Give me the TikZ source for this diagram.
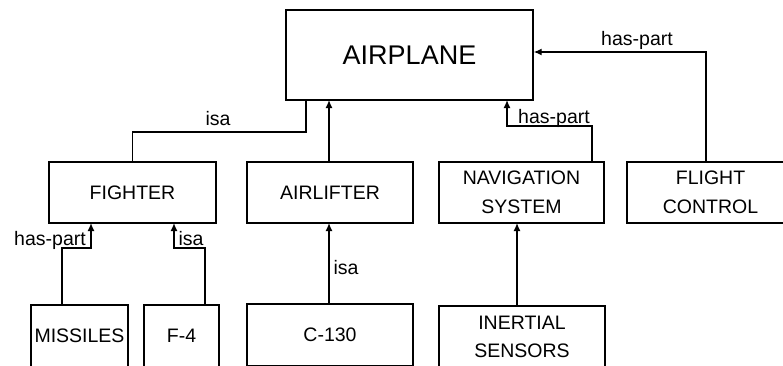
\documentclass[tikz,border=0pt]{standalone}
\usepackage{fontspec}
\setmainfont{Liberation Sans}
\usetikzlibrary{arrows.meta}
\begin{document}
\begin{tikzpicture}[x=1pt,y=-1pt,
  box/.style={draw,line width=1.4pt,rectangle,inner sep=0pt,align=center,
    font=\fontsize{19.5}{28.5}\selectfont},
  lbl/.style={inner sep=0pt,anchor=base,font=\fontsize{19.5}{22}\selectfont},
  con/.style={line width=1.4pt},
  arr/.style={con,-{Latex[length=8pt,width=7pt]}}]
\useasboundingbox (0,0) rectangle (783,365);
\clip (0,0) rectangle (783,365);
\node[box,minimum width=247pt,minimum height=90pt,font=\fontsize{27}{30}\selectfont] (airplane) at (409.5,55) {AIRPLANE};
\node[box,minimum width=167pt,minimum height=61pt] (fighter) at (132.5,192.5) {FIGHTER};
\node[box,minimum width=166pt,minimum height=61pt] (airlifter) at (330,192.5) {AIRLIFTER};
\node[box,minimum width=165pt,minimum height=61pt] (nav) at (521.5,192.5) {NAVIGATION\\SYSTEM};
\node[box,minimum width=167pt,minimum height=61pt] (flight) at (710.5,192.5) {FLIGHT\\CONTROL};
\node[box,minimum width=97pt,minimum height=62pt] (missiles) at (79.5,336) {MISSILES};
\node[box,minimum width=75pt,minimum height=62pt] (f4) at (181.5,336) {F-4};
\node[box,minimum width=166pt,minimum height=62pt] (c130) at (330,335) {C-130};
\node[box,minimum width=166pt,minimum height=62pt] (inertial) at (522,337) {INERTIAL\\SENSORS};
% connectors
\coordinate (fa) at (306,100);
\draw[con] (fighter.north) |- (fa |- 0,132) -- (fa);
\coordinate (la) at (329,100);
\draw[arr] (la |- airlifter.north) -- (la);
\coordinate (na) at (507,100);
\draw[arr] (592,162) |- (na |- 0,126) -- (na);
\coordinate (fc) at (706,162);
\draw[arr] (fc) |- (airplane.east |- 0,52);
\coordinate (mf) at (91,223);
\draw[arr] (62,305) |- (mf |- 0,248) -- (mf);
\coordinate (ff) at (174,223);
\draw[arr] (205,305) |- (ff |- 0,248) -- (ff);
\draw[arr] (329,303) -- (329,223);
\draw[arr] (517,306) -- (517,223);
% labels
\node[lbl] (l1) at (218,125) {isa};
\node[lbl] (l2) at (554,123) {has-part};
\node[lbl] (l3) at (637,45) {has-part};
\node[lbl] (l4) at (50,245) {has-part};
\node[lbl] (l5) at (191,245) {isa};
\node[lbl] (l6) at (346,274) {isa};
\end{tikzpicture}
\end{document}
